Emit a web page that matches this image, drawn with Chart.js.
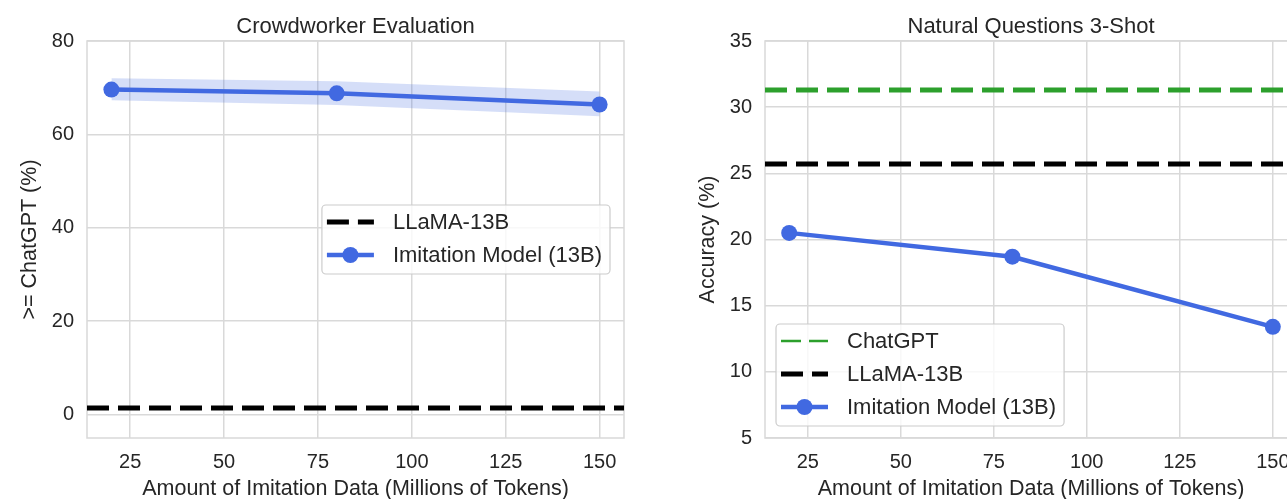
<!DOCTYPE html>
<html>
<head>
<meta charset="utf-8">
<script src="https://cdn.jsdelivr.net/npm/chart.js@4.4.1/dist/chart.umd.min.js"></script>
<style>
  html, body { margin: 0; padding: 0; background: #fff; overflow: hidden; width: 1287px; height: 499px; }
  canvas { position: absolute; top: 0; }
  #crowd { left: 0; }
  #nq { left: 680px; }
</style>
</head>
<body>
<canvas id="crowd" width="640" height="502"></canvas>
<canvas id="nq" width="625" height="502"></canvas>
<script>
// ---- data ----
const tokens = [20, 80, 150];                 // millions of imitation tokens
const xTicks = [25, 50, 75, 100, 125, 150];
const xRange = [13.5, 156.5];

// Crowdworker evaluation (>= ChatGPT, %)
const crowdImitation = [69.6, 68.8, 66.4];
const crowdLower = [67.3, 66.3, 63.9];
const crowdUpper = [72.0, 71.4, 69.2];
const crowdLlama = 1.4;
const crowdYTicks = [0, 20, 40, 60, 80];
const crowdYRange = [-5, 80];

// Natural Questions 3-shot accuracy (%)
const nqImitation = [20.5, 18.7, 13.4];
const nqChatGPT = 31.3;
const nqLlama = 25.7;
const nqYTicks = [5, 10, 15, 20, 25, 30, 35];
const nqYRange = [5, 35];

const labelImitation = 'Imitation Model (13B)';
const labelLlama = 'LLaMA-13B';
const labelChatGPT = 'ChatGPT';

// ---- styling ----
const INK = '#262626';
const GRID = '#d9d9d9';
const FONT = "'Liberation Sans', Arial, sans-serif";
const BLUE = '#4169e1';
const BAND = 'rgba(65,105,225,0.22)';
const GREEN = '#2ca02c';
const DASH = [22, 9];

function pts(xs, ys) { return xs.map((x, i) => ({ x, y: ys[i] })); }
// horizontal reference line spanning the full x axis
function hline(v) { return [{ x: xRange[0], y: v }, { x: xRange[1], y: v }]; }

// light frame around the plotting area
const frame = {
  id: 'frame',
  beforeDatasetsDraw(chart) {
    const { ctx, chartArea: a } = chart;
    ctx.save();
    ctx.strokeStyle = GRID;
    ctx.lineWidth = 1.5;
    ctx.strokeRect(a.left, a.top, a.right - a.left, a.bottom - a.top);
    ctx.restore();
  }
};

// title centred over the plotting area
const plotTitle = {
  id: 'plotTitle',
  afterDraw(chart, args, opts) {
    const { ctx, chartArea: a } = chart;
    ctx.save();
    ctx.font = `22px ${FONT}`;
    ctx.fillStyle = INK;
    ctx.textAlign = 'center';
    ctx.textBaseline = 'alphabetic';
    ctx.fillText(opts.text, (a.left + a.right) / 2, 32.5);
    ctx.restore();
  }
};

// framed legend drawn inside the plotting area
const boxLegend = {
  id: 'boxLegend',
  afterDatasetsDraw(chart, args, opts) {
    const { ctx, chartArea: a } = chart;
    const items = opts.items;
    ctx.save();
    ctx.font = `${opts.fontSize}px ${FONT}`;
    const textW = Math.max(...items.map(it => ctx.measureText(it.label).width));
    const w = 5 + 47 + 19 + textW + 8;
    const h = 17 + 33 * (items.length - 1) + 19;
    let x, y;
    if (opts.loc === 'center right') {
      x = a.right - 14 - w;
      y = (a.top + a.bottom) / 2 - h / 2;
    } else {
      x = a.left + 11;
      y = a.bottom - 12 - h;
    }
    ctx.beginPath();
    ctx.roundRect(x, y, w, h, 4);
    ctx.fillStyle = 'rgba(255,255,255,0.8)';
    ctx.fill();
    ctx.strokeStyle = '#cccccc';
    ctx.lineWidth = 1.2;
    ctx.stroke();
    items.forEach((it, i) => {
      const cy = y + 17 + 33 * i;
      ctx.beginPath();
      ctx.setLineDash(it.dash || []);
      ctx.moveTo(x + 5, cy);
      ctx.lineTo(x + 52, cy);
      ctx.strokeStyle = it.color;
      ctx.lineWidth = it.width;
      ctx.lineCap = 'butt';
      ctx.stroke();
      ctx.setLineDash([]);
      if (it.marker) {
        ctx.beginPath();
        ctx.arc(x + 28.5, cy, it.marker, 0, Math.PI * 2);
        ctx.fillStyle = it.color;
        ctx.fill();
      }
      ctx.fillStyle = INK;
      ctx.textBaseline = 'middle';
      ctx.textAlign = 'left';
      ctx.fillText(it.label, x + 71, cy + 1);
    });
    ctx.restore();
  }
};

function scales(yRange, yTicks, yTitle, yWidth, yTitlePad) {
  return {
    x: {
      type: 'linear',
      min: xRange[0],
      max: xRange[1],
      afterBuildTicks: s => { s.ticks = xTicks.map(v => ({ value: v })); },
      afterFit: s => { s.height = 64; },
      grid: { color: GRID, lineWidth: 1.5, drawTicks: false },
      border: { display: false },
      ticks: { padding: 12, color: INK, maxRotation: 0, font: { family: FONT, size: 20 } },
      title: {
        display: true, text: 'Amount of Imitation Data (Millions of Tokens)', color: INK,
        font: { family: FONT, size: 21.5 }, padding: { top: 0, bottom: 0 }
      }
    },
    y: {
      type: 'linear',
      min: yRange[0],
      max: yRange[1],
      afterBuildTicks: s => { s.ticks = yTicks.map(v => ({ value: v })); },
      afterFit: s => { s.width = yWidth; },
      grid: { color: GRID, lineWidth: 1.5, drawTicks: false },
      border: { display: false },
      ticks: { padding: 13, color: INK, font: { family: FONT, size: 20 } },
      title: {
        display: true, text: yTitle, color: INK,
        font: { family: FONT, size: 21.5 }, padding: { top: yTitlePad, bottom: 0 }
      }
    }
  };
}

const common = {
  responsive: false,
  animation: false,
  events: [],
  elements: { line: { tension: 0 } }
};

// ---- Crowdworker Evaluation ----
new Chart(document.getElementById('crowd'), {
  type: 'line',
  data: {
    datasets: [
      { label: labelImitation, data: pts(tokens, crowdImitation), borderColor: BLUE, borderWidth: 4.5,
        pointRadius: 8, pointBackgroundColor: BLUE, pointBorderWidth: 0, fill: false, order: 0 },
      { label: 'upper', data: pts(tokens, crowdUpper), borderWidth: 0, pointRadius: 0,
        backgroundColor: BAND, fill: '+1', order: 2 },
      { label: 'lower', data: pts(tokens, crowdLower), borderWidth: 0, pointRadius: 0, fill: false, order: 2 },
      { label: labelLlama, data: hline(crowdLlama), borderColor: '#000', borderWidth: 5, borderDash: DASH,
        pointRadius: 0, fill: false, order: 1 }
    ]
  },
  options: {
    ...common,
    layout: { padding: { left: 0, right: 16, top: 41, bottom: 0 } },
    scales: scales(crowdYRange, crowdYTicks, '>= ChatGPT (%)', 87, 17),
    plugins: {
      legend: { display: false },
      tooltip: { enabled: false },
      title: { display: false },
      plotTitle: { text: 'Crowdworker Evaluation' },
      boxLegend: {
        loc: 'center right', fontSize: 22,
        items: [
          { label: labelLlama, color: '#000', width: 5, dash: DASH },
          { label: labelImitation, color: BLUE, width: 4.5, marker: 8 }
        ]
      }
    }
  },
  plugins: [frame, boxLegend, plotTitle]
});

// ---- Natural Questions 3-Shot ----
new Chart(document.getElementById('nq'), {
  type: 'line',
  data: {
    datasets: [
      { label: labelImitation, data: pts(tokens, nqImitation), borderColor: BLUE, borderWidth: 4.5,
        pointRadius: 8, pointBackgroundColor: BLUE, pointBorderWidth: 0, fill: false, order: 0 },
      { label: labelChatGPT, data: hline(nqChatGPT), borderColor: GREEN, borderWidth: 5, borderDash: DASH,
        pointRadius: 0, fill: false, order: 1 },
      { label: labelLlama, data: hline(nqLlama), borderColor: '#000', borderWidth: 5, borderDash: DASH,
        pointRadius: 0, fill: false, order: 1 }
    ]
  },
  options: {
    ...common,
    layout: { padding: { left: 0, right: 0, top: 41, bottom: 0 } },
    scales: scales(nqYRange, nqYTicks, 'Accuracy (%)', 85, 15),
    plugins: {
      legend: { display: false },
      tooltip: { enabled: false },
      title: { display: false },
      plotTitle: { text: 'Natural Questions 3-Shot' },
      boxLegend: {
        loc: 'lower left', fontSize: 22,
        items: [
          { label: labelChatGPT, color: GREEN, width: 2.5, dash: [20, 8] },
          { label: labelLlama, color: '#000', width: 5, dash: DASH },
          { label: labelImitation, color: BLUE, width: 4.5, marker: 8 }
        ]
      }
    }
  },
  plugins: [frame, boxLegend, plotTitle]
});
</script>
</body>
</html>
